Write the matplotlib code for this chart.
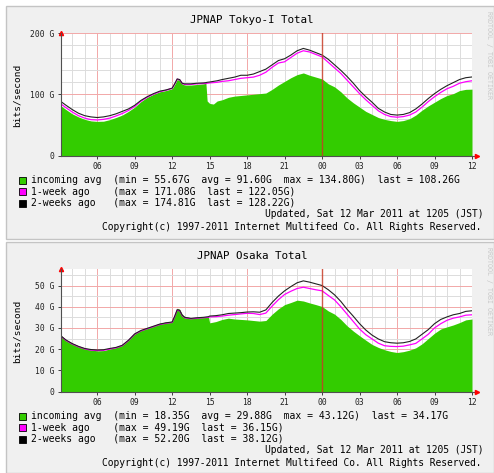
import matplotlib.pyplot as plt
from matplotlib.patches import Rectangle

plt.rcParams['font.family'] = ['DejaVu Sans Mono']

# ---- data (hours counted from 00:00 on 11 Mar) ----
tokyo_hours = [3.1, 3.5, 4.0, 4.5, 5.0, 5.5, 6.0, 6.5, 7.0, 7.5, 8.0, 8.5, 9.0, 9.5, 10.0,
               10.5, 11.0, 11.5, 12.0, 12.2, 12.4, 12.6, 12.8, 13.0, 13.5, 14.0, 14.5,
               14.7, 14.8, 15.0, 15.3, 15.6, 16.0, 16.5, 17.0, 17.5, 18.0, 18.5, 19.0,
               19.5, 20.0, 20.5, 21.0, 21.5, 22.0, 22.5, 23.0, 23.5, 24.0, 24.5, 25.0,
               25.5, 26.0, 26.5, 27.0, 27.5, 28.0, 28.5, 29.0, 29.5, 30.0, 30.5, 31.0,
               31.5, 32.0, 32.5, 33.0, 33.5, 34.0, 34.5, 35.0, 35.5, 36.0]
tokyo_in = [81, 75, 68, 63, 59, 56.5, 55.7, 56, 58.5, 62, 66, 72, 79, 88, 95,
            100, 104, 106, 109, 116, 124, 123, 117, 115, 115, 116, 117,
            118, 89, 85, 84, 89, 91, 95, 97, 98, 99, 100, 101,
            102, 108, 115, 121, 127, 132, 134.8, 131, 128, 125, 117, 112,
            104, 94, 86, 79, 72, 67, 62, 59, 57, 55.7, 57, 60,
            66, 74, 81, 87, 93, 98, 101, 106, 108, 108.3]
tokyo_1w = [84, 78, 71, 65, 61, 58.5, 58, 59, 61, 64.5, 68.5, 73.5, 80, 88.5, 95,
            100, 104, 106.5, 109.5, 116.5, 124.5, 123.5, 117.5, 116, 116, 117, 117.5,
            117.5, 118, 118.5, 119, 119.5, 121, 122, 124, 126, 127, 128, 131,
            136, 144, 151, 153, 160, 167, 171, 169, 165, 161, 152, 143,
            134, 123, 112, 101, 91, 82, 73, 67, 63.5, 62.5, 63.5, 66,
            71, 79, 88, 96, 103, 109, 113, 118, 120.5, 122]
tokyo_2w = [88, 82, 75, 69, 65, 63, 62, 63, 65, 68, 72, 76, 82, 90, 96,
            101, 105, 107, 110, 117, 125, 124, 118, 117, 117, 118, 118.5,
            119, 119.5, 120, 121, 122, 124, 126, 128, 131, 131, 133, 137,
            141, 148, 155, 158, 164, 171, 174.8, 172, 168, 164, 157, 148,
            139, 129, 118, 106, 96, 87, 77, 71, 67, 66, 67, 70,
            76, 84, 93, 101, 108, 114, 119, 124, 127, 128.2]

osaka_hours = [3.1, 3.5, 4.0, 4.5, 5.0, 5.5, 6.0, 6.5, 7.0, 7.5, 8.0, 8.5, 9.0, 9.5, 10.0,
               10.5, 11.0, 11.5, 12.0, 12.2, 12.4, 12.6, 12.8, 13.0, 13.5, 14.0, 14.5,
               14.9, 15.0, 15.5, 16.0, 16.5, 17.0, 17.5, 18.0, 18.5, 19.0, 19.5, 20.0,
               20.5, 21.0, 21.5, 22.0, 22.5, 23.0, 23.5, 24.0, 24.5, 25.0, 25.5, 26.0,
               26.5, 27.0, 27.5, 28.0, 28.5, 29.0, 29.5, 30.0, 30.5, 31.0, 31.5, 32.0,
               32.5, 33.0, 33.5, 34.0, 34.5, 35.0, 35.5, 36.0]
osaka_in = [26.5, 24.5, 22.8, 21.5, 20.5, 19.7, 19.2, 19.3, 20.1, 20.8, 22, 24.5, 27.5, 29, 30,
            31, 32.2, 32.8, 33.2, 36, 39.3, 38.8, 36.5, 35.4, 34.8, 35, 35.2,
            35.4, 32.4, 33, 34, 34.6, 34.2, 34, 33.8, 33.5, 33.2, 33.5, 36.5,
            39, 41, 42, 43.1, 42.7, 41.8, 41, 40.1, 38, 36.5, 34, 31,
            28.5, 26.3, 24.2, 22.2, 20.8, 19.7, 18.9, 18.4, 18.8, 19.5, 20.6, 22.5,
            25, 27.5, 29.5, 30.5, 31.4, 32.5, 33.8, 34.2]
osaka_1w = [26, 24.1, 22.4, 21.1, 20.1, 19.5, 19.3, 19.4, 20, 20.6, 21.6, 24, 27, 28.6, 29.6,
            30.6, 31.6, 32.2, 32.6, 35.3, 38.4, 38.1, 35.8, 34.8, 34.3, 34.6, 34.8,
            35, 35.2, 35.3, 35.6, 36, 36.3, 36.6, 36.9, 36.8, 36.3, 37, 40.3,
            43.3, 45.8, 47.3, 48.6, 49.2, 48.6, 48, 47.5, 45.3, 43.2, 40, 36.5,
            33, 29.5, 26.8, 24.8, 22.8, 21.6, 21.3, 21.2, 21.4, 22, 22.7, 24.8,
            27, 30, 32, 33.6, 34.6, 35.2, 36, 36.2]
osaka_2w = [26.2, 24.3, 22.6, 21.3, 20.3, 19.8, 19.6, 19.7, 20.3, 20.8, 21.8, 24.2, 27.2, 28.8, 29.8,
            30.8, 31.8, 32.4, 32.8, 35.5, 38.6, 38.3, 36, 35, 34.5, 34.8, 35,
            35.3, 35.6, 35.8, 36.2, 36.8, 37, 37.2, 37.5, 37.6, 37.4, 38.5, 42,
            45, 47.5, 49.5, 51.3, 52.2, 51.6, 50.8, 50, 48, 45.6, 42.5, 38.8,
            35.5, 32, 29, 26.6, 24.8, 23.5, 23, 22.8, 23, 23.6, 24.8, 27,
            29.2, 32, 34, 35.2, 36.2, 36.8, 37.8, 38.1]

xtick_hours = [6, 9, 12, 15, 18, 21, 24, 27, 30, 33, 36]
xtick_labels = ['06', '09', '12', '15', '18', '21', '00', '03', '06', '09', '12']

tokyo_legend = ['incoming avg  (min = 55.67G  avg = 91.60G  max = 134.80G)  last = 108.26G',
                '1-week ago    (max = 171.08G  last = 122.05G)',
                '2-weeks ago   (max = 174.81G  last = 128.22G)']
osaka_legend = ['incoming avg  (min = 18.35G  avg = 29.88G  max = 43.12G)  last = 34.17G',
                '1-week ago    (max = 49.19G  last = 36.15G)',
                '2-weeks ago   (max = 52.20G  last = 38.12G)']

W, H = 494, 473
fig = plt.figure(figsize=(W / 100, H / 100), dpi=100)
fig.patch.set_facecolor('white')


def fx(x):
    return x / W


def fy(y):
    return 1 - y / H


def panel(off, title, hours, inc, w1, w2, ymax, ymajor, yminor, yticks, ylabels, legend, bottom):
    fig.add_artist(Rectangle((fx(6), fy(bottom)), (W - 6) / W, (bottom - 6 - off) / H,
                             transform=fig.transFigure, facecolor='#f0f0f0',
                             edgecolor='#c4c4c4', lw=1, zorder=0))
    ax = fig.add_axes([fx(61), fy(155.5 + off), 411 / W, 122.5 / H])
    ax.set_facecolor('white')
    ax.set_xlim(3.1, 36.0)
    ax.set_ylim(0, ymax)

    # grid
    for h in range(4, 37):
        if h == 24:
            continue
        ax.axvline(h, color='#f2a8a8' if h % 6 == 0 else '#dcdcdc', lw=0.7, zorder=1)
    for v in yminor:
        ax.axhline(v, color='#dcdcdc', lw=0.7, zorder=1)
    for v in ymajor:
        ax.axhline(v, color='#f2a8a8', lw=0.7, zorder=1)

    ax.fill_between(hours, 0, inc, color='#33cc00', lw=0, zorder=2)
    ax.plot(hours, w1, color='#ff00ff', lw=0.9, zorder=3)
    ax.plot(hours, w2, color='#222222', lw=0.8, zorder=4)
    ax.axvline(24, color='#c83c28', lw=1.0, alpha=0.85, zorder=5)

    for s in ['top', 'right']:
        ax.spines[s].set_visible(False)
    for s in ['left', 'bottom']:
        ax.spines[s].set_color('#505050')
        ax.spines[s].set_linewidth(0.8)
        ax.spines[s].set_zorder(6)
    ax.plot([1.0, 1.012], [0, 0], color='#505050', lw=0.8, transform=ax.transAxes, clip_on=False)
    ax.plot([1.012], [0], marker='>', ms=3, color='red', transform=ax.transAxes, clip_on=False)
    ax.plot([0], [1.0], marker='^', ms=3, color='red', transform=ax.transAxes, clip_on=False)

    ax.set_xticks(xtick_hours)
    ax.set_xticklabels(xtick_labels)
    ax.set_yticks(yticks)
    ax.set_yticklabels(ylabels)
    ax.tick_params(labelsize=5.8, length=2, width=0.6, pad=3, colors='#222222')

    fig.text(fx(252), fy(20 + off), title, fontsize=7.8, ha='center', va='center')
    fig.text(fx(17), fy(95 + off), 'bits/second', fontsize=6.8, rotation=90,
             ha='center', va='center')
    fig.text(fx(489), fy(11 + off), 'RRDTOOL / TOBI OETIKER', fontsize=4.8,
             rotation=270, ha='center', va='top', color='#c8c8c8')

    colors = ['#33cc00', '#ff00ff', '#000000']
    rows = [180, 191.7, 203.3]
    for c, r, txt in zip(colors, rows, legend):
        fig.add_artist(Rectangle((fx(19), fy(r + off + 3.5)), 7 / W, 7 / H,
                                 transform=fig.transFigure, facecolor=c,
                                 edgecolor='black', lw=0.6))
        fig.text(fx(31), fy(r + off), txt, fontsize=7, ha='left', va='center')
    fig.text(fx(483), fy(214.3 + off), 'Updated, Sat 12 Mar 2011 at 1205 (JST)',
             fontsize=6.9, ha='right', va='center')
    fig.text(fx(481), fy(226.7 + off),
             'Copyright(c) 1997-2011 Internet Multifeed Co. All Rights Reserved.',
             fontsize=6.9, ha='right', va='center')


panel(0, 'JPNAP Tokyo-I Total', tokyo_hours, tokyo_in, tokyo_1w, tokyo_2w, 200,
      [100, 200], [20, 40, 60, 80, 120, 140, 160, 180], [0, 100, 200],
      ['0', '100 G', '200 G'], tokyo_legend, 239)
panel(236, 'JPNAP Osaka Total', osaka_hours, osaka_in, osaka_1w, osaka_2w, 57.8,
      [10, 20, 30, 40, 50], [5, 15, 25, 35, 45, 55], [0, 10, 20, 30, 40, 50],
      ['0', '10 G', '20 G', '30 G', '40 G', '50 G'], osaka_legend, 473)

fig.savefig('out.png', dpi=100)
